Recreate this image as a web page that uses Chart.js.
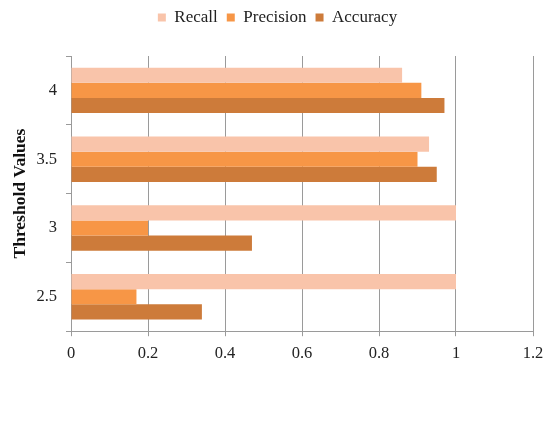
<!DOCTYPE html>
<html>
<head>
<meta charset="utf-8">
<script src="https://cdn.jsdelivr.net/npm/chart.js@4/dist/chart.umd.min.js"></script>
<style>
  html, body { margin: 0; padding: 0; background: #fff; }
  #wrap { width: 554px; height: 446px; }
</style>
</head>
<body>
<div id="wrap"><canvas id="chart" width="554" height="446"></canvas></div>
<script>
// Threshold values (top to bottom) and the three metrics at each threshold
const thresholds = ['4', '3.5', '3', '2.5'];
const recall     = [0.86, 0.93, 1.00, 1.00];
const precision  = [0.91, 0.90, 0.20, 0.17];
const accuracy   = [0.97, 0.95, 0.47, 0.34];

const seriesNames  = ['Recall', 'Precision', 'Accuracy'];
const seriesColors = ['#F9C4AA', '#F79646', '#CD7B3A'];

const serif = "'Liberation Serif', 'Times New Roman', serif";
const gridGray = '#9a9a9a';

// Extra room under the legend and a small horizontal shift so it sits centred over the page
const legendLayout = {
  id: 'legendLayout',
  beforeInit(chart) {
    const fit = chart.legend.fit;
    chart.legend.fit = function () {
      fit.call(this);
      this.height += 20;
    };
  },
  afterLayout(chart) {
    chart.legend.left += 11;
    chart.legend.right += 11;
  }
};

new Chart(document.getElementById('chart'), {
  type: 'bar',
  data: {
    labels: thresholds,
    datasets: [
      { label: seriesNames[0], data: recall,    backgroundColor: seriesColors[0] },
      { label: seriesNames[1], data: precision, backgroundColor: seriesColors[1] },
      { label: seriesNames[2], data: accuracy,  backgroundColor: seriesColors[2] }
    ]
  },
  options: {
    indexAxis: 'y',
    responsive: false,
    animation: false,
    devicePixelRatio: 1,
    categoryPercentage: 0.66,
    barPercentage: 1.0,
    layout: { padding: { left: 0, right: 21, top: 0, bottom: 74 } },
    plugins: {
      legend: {
        position: 'top',
        labels: {
          font: { family: serif, size: 17 },
          color: '#222',
          boxWidth: 8,
          boxHeight: 8,
          padding: 9
        }
      },
      tooltip: { enabled: false }
    },
    scales: {
      x: {
        min: 0,
        max: 1.2,
        ticks: {
          stepSize: 0.2,
          color: '#222',
          padding: 8,
          font: { family: serif, size: 16.5 },
          // plain numbers: 0, 0.2 … 1, 1.2
          callback: (v) => String(Number(v.toFixed(1)))
        },
        grid: {
          color: gridGray,
          lineWidth: 1,
          drawTicks: true,
          tickLength: 5
        },
        border: { display: true, color: gridGray, width: 1 }
      },
      y: {
        afterFit(scale) { scale.width = 71; },
        ticks: {
          color: '#222',
          padding: 9,
          font: { family: serif, size: 16.5 }
        },
        grid: {
          drawOnChartArea: false,
          drawTicks: true,
          tickLength: 5,
          color: gridGray
        },
        border: { display: true, color: gridGray, width: 1 },
        title: {
          display: true,
          text: 'Threshold Values',
          color: '#111',
          font: { family: serif, size: 17.5, weight: 'bold' },
          padding: { top: 10, bottom: 0 }
        }
      }
    }
  },
  plugins: [legendLayout]
});
</script>
</body>
</html>
